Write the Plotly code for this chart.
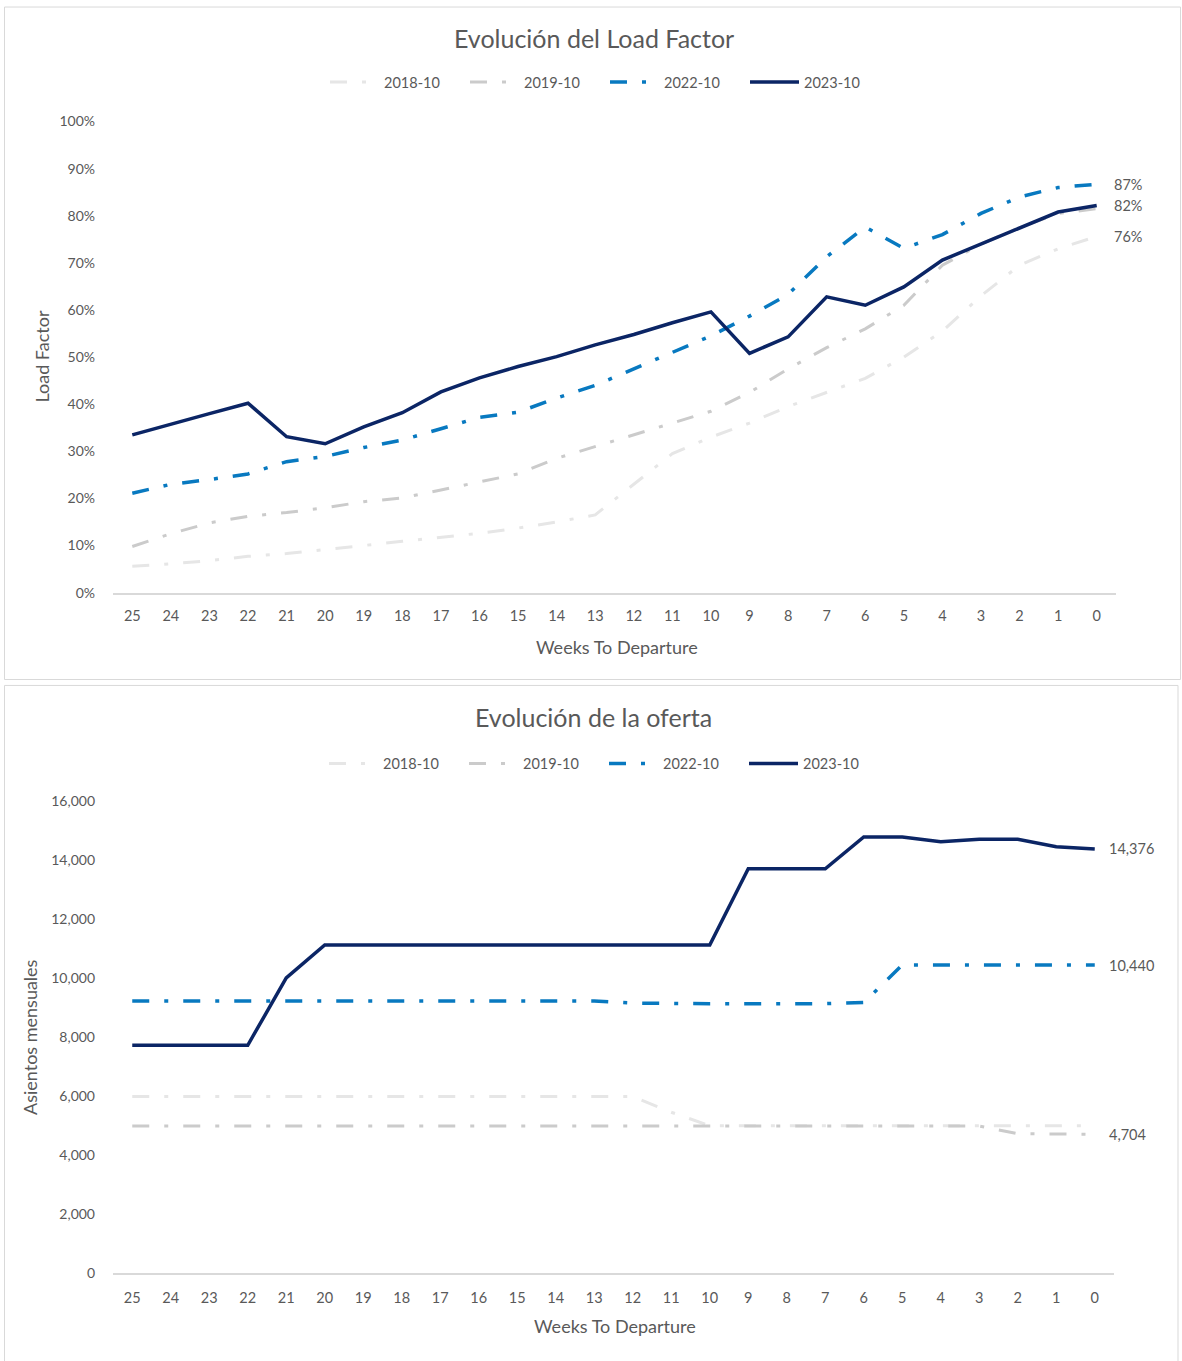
import plotly.graph_objects as go

# ---- data ----
weeks = [str(w) for w in range(25, -1, -1)]
series_names = ["2018-10", "2019-10", "2022-10", "2023-10"]

lf_2018 = [5.6, 6.1, 6.8, 7.7, 8.3, 9.1, 10.0, 10.9, 11.8, 12.6, 13.7, 15.0, 16.5,
           23.0, 29.5, 33.0, 36.0, 39.5, 42.5, 45.5, 50.0, 55.5, 63.0, 69.5, 73.0, 75.6]
lf_2019 = [9.8, 12.5, 14.8, 16.2, 17.0, 18.0, 19.3, 20.1, 21.8, 23.5, 25.2, 28.5, 31.0,
           33.5, 36.0, 38.5, 42.5, 47.5, 52.0, 56.0, 61.0, 69.5, 74.0, 77.5, 80.5, 81.5]
lf_2022 = [21.1, 23.0, 24.0, 25.2, 27.8, 28.9, 30.8, 32.4, 34.8, 37.2, 38.3, 41.3, 44.0,
           47.5, 51.0, 54.5, 58.7, 63.3, 71.3, 77.6, 73.1, 76.0, 80.5, 84.0, 86.0, 86.7]
lf_2023 = [33.5, 35.8, 38.0, 40.2, 33.1, 31.6, 35.2, 38.2, 42.6, 45.6, 48.0, 50.1, 52.6,
           54.8, 57.3, 59.6, 50.8, 54.3, 62.8, 61.0, 64.9, 70.6, 74.0, 77.5, 80.8, 82.2]

seats_2018 = [5980] * 13 + [5980, 5450] + [4990] * 11
seats_2019 = [4980] * 23 + [4720, 4700, 4704]
seats_2022 = [9220] * 13 + [9150, 9130, 9130, 9130, 9130, 9130, 9170] + [10440] * 6
seats_2023 = [7720, 7720, 7720, 7720, 10000] + [11120] * 11 + [13700, 13700, 13700,
              14780, 14780, 14620, 14700, 14700, 14450, 14376]

load_factor = [[v / 100 for v in s] for s in (lf_2018, lf_2019, lf_2022, lf_2023)]
seats = [seats_2018, seats_2019, seats_2022, seats_2023]

# ---- styles ----
W, H = 1182, 1361
FONT = "Lato"
TXT = "#595959"
colors = ["#e6e6e6", "#cbcbcb", "#0879c0", "#0b2565"]
widths = [3, 3, 3.5, 3.5]
dashdot = "17px,15px,4px,15px"
dashes = [dashdot, dashdot, dashdot, "solid"]
last = len(weeks) - 1


def px_x(p):
    return p / W


def px_y(p):
    return 1 - p / H


fig = go.Figure()

for i, name in enumerate(series_names):
    fig.add_trace(go.Scatter(
        x=weeks, y=load_factor[i], name=name, mode="lines",
        line=dict(color=colors[i], width=widths[i], dash=dashes[i]),
        xaxis="x", yaxis="y", legend="legend"
    ))
    fig.add_trace(go.Scatter(
        x=weeks, y=seats[i], name=name, mode="lines",
        line=dict(color=colors[i], width=widths[i], dash=dashes[i]),
        xaxis="x2", yaxis="y2", legend="legend2"
    ))

# end-of-line data labels (as in the original)
annotations = []
for i in (3, 2, 0):
    annotations.append(dict(
        x=last, y=load_factor[i][-1], xref="x", yref="y",
        text=f"{load_factor[i][-1]:.0%}", showarrow=False, xanchor="left",
        xshift=15, font=dict(family=FONT, size=14.5, color=TXT)))
for i in (3, 2, 1):
    annotations.append(dict(
        x=last, y=seats[i][-1], xref="x2", yref="y2",
        text=f"{seats[i][-1]:,}", showarrow=False, xanchor="left",
        xshift=12, font=dict(family=FONT, size=14.5, color=TXT)))

# titles
for text, x, y, size, angle in [
    ("Evolución del Load Factor", 594, 29, 25, 0),
    ("Evolución de la oferta", 593, 717, 25, 0),
    ("Weeks To Departure", 617, 646, 18, 0),
    ("Weeks To Departure", 615, 1334, 18, 0),
    ("Load Factor", 42, 352, 18, -90),
    ("Asientos mensuales", 30, 1041, 18, -90),
]:
    annotations.append(dict(
        x=px_x(x), y=px_y(y), xref="paper", yref="paper", text=text,
        showarrow=False, textangle=angle, xanchor="center", yanchor="middle",
        font=dict(family=FONT, size=size, color=TXT)))

# panel frames
shapes = [
    dict(type="rect", xref="paper", yref="paper", x0=px_x(4.5), x1=px_x(1180.5),
         y0=px_y(679), y1=px_y(-2), line=dict(color="#d9d9d9", width=1)),
    dict(type="rect", xref="paper", yref="paper", x0=px_x(4.5), x1=px_x(1178),
         y0=px_y(1375), y1=px_y(685), line=dict(color="#d9d9d9", width=1)),
]

xaxis_common = dict(
    type="category", range=[-0.5, 25.5], showgrid=False, zeroline=False,
    showline=True, linecolor="#d9d9d9", linewidth=1.5, ticks="",
    tickfont=dict(family=FONT, size=14.5, color=TXT), fixedrange=True,
)
yaxis_common = dict(
    showgrid=False, zeroline=False, showline=False, ticks="",
    ticklabelstandoff=17, tickfont=dict(family=FONT, size=14, color=TXT),
    fixedrange=True,
)

legend_common = dict(
    orientation="h", xanchor="center", yanchor="middle",
    font=dict(family=FONT, size=14.5, color=TXT), bgcolor="rgba(0,0,0,0)",
    itemwidth=49, entrywidth=76, entrywidthmode="pixels", tracegroupgap=0,
)

fig.update_layout(
    width=W, height=H, margin=dict(l=0, r=0, t=0, b=0),
    paper_bgcolor="white", plot_bgcolor="white",
    font=dict(family=FONT, color=TXT),
    xaxis=dict(domain=[px_x(113), px_x(1116)], anchor="y",
               ticklabelstandoff=9, **xaxis_common),
    yaxis=dict(domain=[px_y(591), px_y(114)], anchor="x", range=[0, 1],
               dtick=0.1, tickformat=".0%", **yaxis_common),
    xaxis2=dict(domain=[px_x(113), px_x(1114)], anchor="y2",
                ticklabelstandoff=11, **xaxis_common),
    yaxis2=dict(domain=[px_y(1280), px_y(802)], anchor="x2", range=[0, 16000],
                dtick=2000, tickformat=",", **yaxis_common),
    legend=dict(x=px_x(605), y=px_y(74), **legend_common),
    legend2=dict(x=px_x(604), y=px_y(764), **legend_common),
    annotations=annotations,
    shapes=shapes,
    showlegend=True,
)

fig.write_html("out.html", config={"displayModeBar": False},
               post_script="document.body.style.margin='0px';")
